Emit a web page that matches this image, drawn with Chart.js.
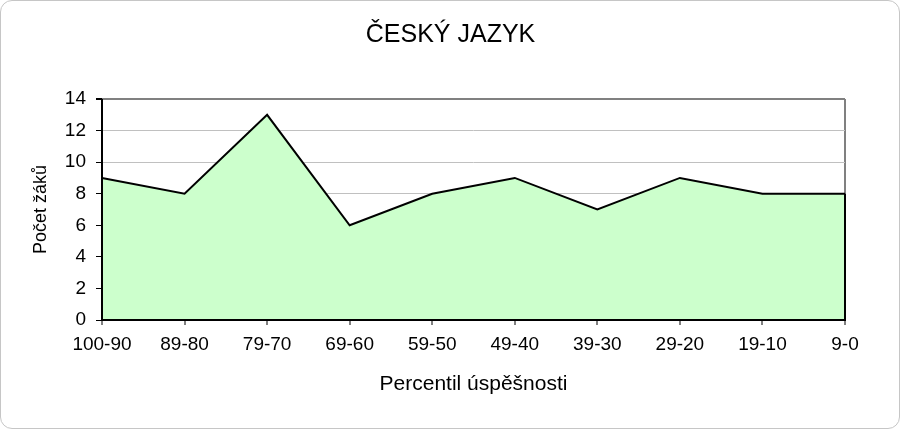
<!DOCTYPE html>
<html>
<head>
<meta charset="utf-8">
<script src="https://cdn.jsdelivr.net/npm/chart.js@4"></script>
<style>
  body { margin: 0; background: #fff; }
  #ramecek {
    position: absolute; left: 0; top: 0;
    width: 898px; height: 427px;
    border: 1px solid #c6c6c6; border-radius: 12px;
  }
  #graf { position: absolute; left: 0; top: 0; }
</style>
</head>
<body>
<div id="ramecek"></div>
<canvas id="graf" width="901" height="430"></canvas>
<script>
const kategorie = ['100-90', '89-80', '79-70', '69-60', '59-50', '49-40', '39-30', '29-20', '19-10', '9-0'];
const pocetZaku = [9, 8, 13, 6, 8, 9, 7, 9, 8, 8];
const osaYMin = 0;
const osaYMax = 14;
const osaYKrok = 2;

const pismo = 'Liberation Sans, Arial, sans-serif';

// osy kreslime az po vyplni, aby je zelena plocha neprekryla
const osyNahore = {
  id: 'osyNahore',
  afterDatasetsDraw(chart) {
    const { ctx, chartArea, scales } = chart;
    const posledni = pocetZaku[pocetZaku.length - 1];
    ctx.save();
    ctx.strokeStyle = '#000';
    ctx.lineWidth = 2;
    ctx.beginPath();
    ctx.moveTo(chartArea.left, chartArea.top);
    ctx.lineTo(chartArea.left, chartArea.bottom);
    ctx.lineTo(chartArea.right, chartArea.bottom);
    ctx.lineTo(chartArea.right, scales.y.getPixelForValue(posledni));
    ctx.stroke();
    ctx.restore();
  }
};

const grafCJ = new Chart(document.getElementById('graf'), {
  type: 'line',
  data: {
    labels: kategorie,
    datasets: [
      {
        label: 'Počet žáků',
        data: pocetZaku,
        fill: 'origin',
        backgroundColor: '#ccffcc',
        borderColor: '#000',
        borderWidth: 2,
        tension: 0,
        pointRadius: 0,
      },
    ],
  },
  options: {
    responsive: false,
    animation: false,
    layout: { padding: 0 },
    plugins: {
      legend: { display: false },
      tooltip: { enabled: false },
      title: {
        display: true,
        text: 'ČESKÝ JAZYK',
        color: '#000',
        font: { family: pismo, size: 25, weight: 'normal' },
        padding: { top: 20, bottom: 49 },
      },
    },
    scales: {
      x: {
        offset: false,
        grid: {
          offset: false,
          color: (c) => (c.index === kategorie.length - 1 ? '#808080' : 'transparent'),
          lineWidth: 2,
          tickColor: '#000',
          tickWidth: 1,
          tickLength: 5,
        },
        border: { display: false },
        ticks: {
          color: '#000',
          font: { family: pismo, size: 19 },
          padding: 8,
          maxRotation: 0,
          autoSkip: false,
        },
        title: {
          display: true,
          text: 'Percentil úspěšnosti',
          color: '#000',
          font: { family: pismo, size: 21 },
          padding: 33,
        },
        afterFit: (s) => { s.height = 110; },
      },
      y: {
        min: osaYMin,
        max: osaYMax,
        grid: {
          color: (c) => (c.tick.value === osaYMax ? '#808080' : '#c0c0c0'),
          lineWidth: (c) => (c.tick.value === osaYMax ? 2 : 1),
          tickColor: '#000',
          tickLength: 6,
        },
        border: { display: false },
        ticks: {
          stepSize: osaYKrok,
          color: '#000',
          font: { family: pismo, size: 19 },
          padding: 10,
        },
        title: {
          display: true,
          text: 'Počet žáků',
          color: '#000',
          font: { family: pismo, size: 18 },
          padding: 30,
        },
        afterFit: (s) => { s.width = 102; },
      },
      // prazdna osa vpravo jen kvuli okraji, titulek tak zustane uprostred
      okraj: {
        position: 'right',
        grid: { display: false },
        border: { display: false },
        ticks: { display: false },
        afterFit: (s) => { s.width = 56; },
      },
    },
  },
  plugins: [osyNahore],
});
</script>
</body>
</html>
